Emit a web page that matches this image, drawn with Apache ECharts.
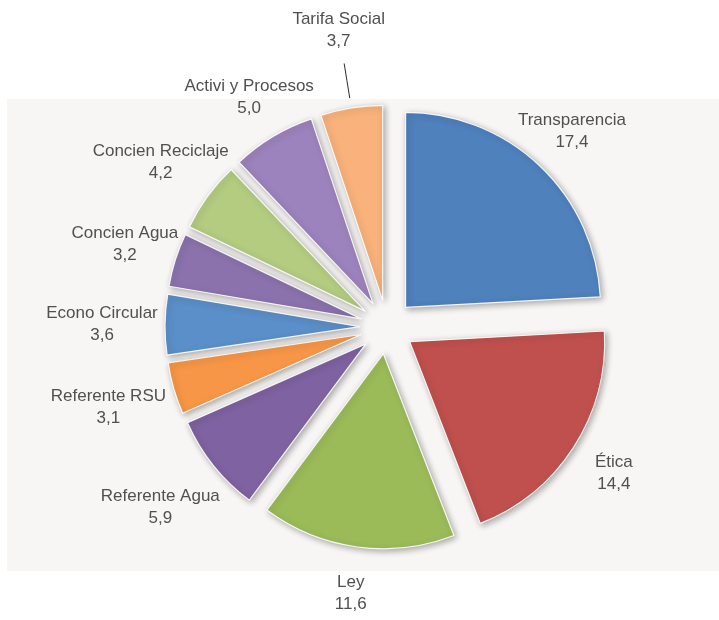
<!DOCTYPE html>
<html>
<head>
<meta charset="utf-8">
<script src="https://cdn.jsdelivr.net/npm/echarts@6/dist/echarts.min.js"></script>
<style>
  html, body { margin: 0; padding: 0; background: #ffffff; }
  #chart { width: 719px; height: 620px; }
</style>
</head>
<body>
<div id="chart"></div>
<script>
// Slices, clockwise from 12 o'clock
const categories = [
  'Transparencia', 'Ética', 'Ley', 'Referente Agua', 'Referente RSU',
  'Econo Circular', 'Concien Agua', 'Concien Reciclaje', 'Activi y Procesos', 'Tarifa Social'
];
const values = [17.4, 14.4, 11.6, 5.9, 3.1, 3.6, 3.2, 4.2, 5.0, 3.7];
const sliceColors = [
  '#4f81bd', '#c0504d', '#9bbb59', '#7f62a1', '#f79646',
  '#5b8fc9', '#8b72ad', '#b3cc80', '#9d83bd', '#f9b27b'
];
// label drawn with a leader line instead of sitting next to its slice
const calloutCategory = 'Tarifa Social';

// Layout
const CX = 387, CY = 327;      // pie centre
const R = 195;                 // slice radius
const EXPLODE = 27;            // how far every slice is pulled out
// distance from the pie centre to each label's centre, along the slice's mid-angle
const labelRadius = [269, 270, 269, 290, 290, 285, 275, 280, 268, 0];
const FONT = '"Liberation Sans", Arial, sans-serif';

const total = values.reduce((a, b) => a + b, 0);
const midAngles = [];
let acc = 0;
values.forEach(v => {
  const span = v / total * 360;
  midAngles.push(90 - acc - span / 2);
  acc += span;
});
function dir(i) {
  const a = midAngles[i] * Math.PI / 180;
  return [Math.cos(a), -Math.sin(a)];
}
const fmt = v => v.toFixed(1).replace('.', ',');

const chart = echarts.init(document.getElementById('chart'), null, { renderer: 'canvas' });

const sliceData = categories.map((name, i) => ({
  name,
  value: values[i],
  selected: true,
  itemStyle: { color: sliceColors[i] }
}));

const labelData = categories.map((name, i) => ({
  name,
  value: values[i],
  labelLine: { show: name === calloutCategory }
}));

chart.setOption({
  animation: false,
  backgroundColor: '#ffffff',
  graphic: [{
    type: 'rect',
    z: -10,
    silent: true,
    shape: { x: 7, y: 99, width: 712, height: 472 },
    style: { fill: '#f7f6f4' }
  }],
  series: [
    {
      type: 'pie',
      center: [CX, CY],
      radius: [0, R],
      startAngle: 90,
      clockwise: true,
      avoidLabelOverlap: false,
      selectedMode: 'multiple',
      selectedOffset: EXPLODE,
      silent: true,
      label: { show: false },
      labelLine: { show: false },
      itemStyle: {
        borderColor: 'rgba(255,255,255,0.9)',
        borderWidth: 1.2,
        shadowBlur: 6,
        shadowOffsetX: 2,
        shadowOffsetY: 2,
        shadowColor: 'rgba(0,0,0,0.32)'
      },
      emphasis: { disabled: true },
      data: sliceData
    },
    {
      // transparent copy sized to the pulled-out slices, carrying the labels
      type: 'pie',
      center: [CX, CY],
      radius: [0, R + EXPLODE],
      startAngle: 90,
      clockwise: true,
      avoidLabelOverlap: false,
      silent: true,
      itemStyle: { color: 'rgba(0,0,0,0)', borderWidth: 0 },
      emphasis: { disabled: true },
      label: {
        show: true,
        position: 'outside',
        formatter: p => p.name + '\n' + fmt(p.value),
        fontFamily: FONT,
        fontSize: 17,
        lineHeight: 22,
        color: '#505050'
      },
      labelLine: {
        show: false,
        lineStyle: { color: '#2b2b2b', width: 1 }
      },
      labelLayout: function (params) {
        const i = params.dataIndex;
        const u = dir(i);
        const h = params.labelRect.height;
        if (categories[i] === calloutCategory) {
          const r0 = R + EXPLODE + 10, r1 = R + EXPLODE + 45;
          const p0 = [CX + u[0] * r0, CY + u[1] * r0];
          const p1 = [CX + u[0] * r1, CY + u[1] * r1];
          const pm = [(p0[0] + p1[0]) / 2, (p0[1] + p1[1]) / 2];
          const d = r1 + 12 + h / 2;
          return {
            x: CX + u[0] * d,
            y: CY + u[1] * d,
            align: 'center',
            verticalAlign: 'middle',
            labelLinePoints: [p0, pm, p1]
          };
        }
        return {
          x: CX + u[0] * labelRadius[i],
          y: CY + u[1] * labelRadius[i],
          align: 'center',
          verticalAlign: 'middle'
        };
      },
      data: labelData
    }
  ]
});
</script>
</body>
</html>
